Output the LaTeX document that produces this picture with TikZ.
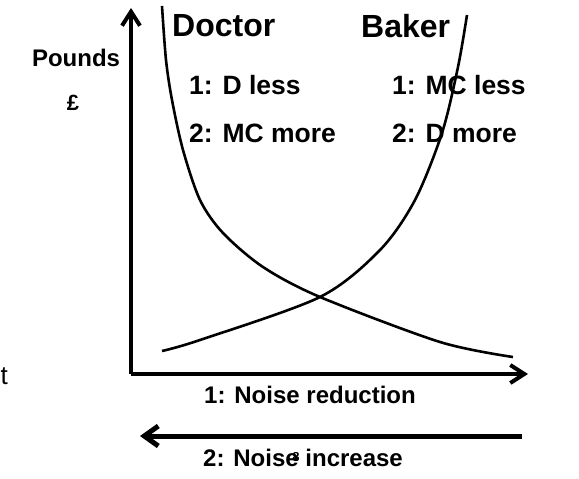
\documentclass[tikz,border=0pt]{standalone}
\usepackage{fontspec}
\setmainfont{Liberation Sans}
\usepackage{tikz}
\usetikzlibrary{calc,positioning,arrows.meta}

\tikzset{
	lbl/.style={font=\fontsize{26.5}{30}\selectfont\bfseries, inner sep=0pt, anchor=west},
	axlbl/.style={font=\fontsize{24}{28}\selectfont\bfseries, inner sep=0pt, anchor=west},
	ttl/.style={font=\fontsize{32}{36}\selectfont\bfseries, inner sep=0pt, anchor=west},
	axis/.style={line width=4pt, -{Straight Barb[length=14pt,width=18pt,line width=4pt]}},
	curve/.style={line width=2.6pt}
}

\begin{document}
\begin{tikzpicture}[x=1pt,y=-1pt]
			\useasboundingbox (0,0) rectangle (579,479);
			\coordinate (o) at (131,374);
			\coordinate (ytop) at (131,8);
			\coordinate (xend) at (528,374);
			\draw[axis] (o) -- (ytop);
			\draw[axis] (o) -- (xend);

			\node[font=\fontsize{24}{28}\selectfont\bfseries, inner sep=0pt] (pounds) at (76,58) {Pounds};
			\node[font=\fontsize{22}{24}\selectfont\bfseries, inner sep=0pt] (pound) at (73,103) {\pounds};

			% demand / cost curves
			\draw[curve] plot[smooth] coordinates {(162,6) (166,60) (172,100) (183,150) (200,200) (223,233) (263,267) (320,297) (440,342) (513,357)};
			\draw[curve] plot[smooth] coordinates {(162,351) (200,340) (320,297) (380,250) (415,200) (442,133) (458,67) (467,15)};

			\node[ttl] (doctor) at (172,26) {Doctor};
			\node[ttl] (baker) at (361,26) {Baker};
			\node[lbl] (dless) at (189,85) {1: D less};
			\node[lbl] (mcmore) at (189,133) {2: MC more};
			\node[lbl] (mcless) at (392,85) {1: MC less};
			\node[lbl] (dmore) at (392,133) {2: D more};

			\node[axlbl] (reduce) at (204,395) {1: Noise reduction};
			\coordinate (bstart) at (522,436);
			\coordinate (bend) at (140,436);
			\draw[line width=5pt, -{Straight Barb[length=14pt,width=20pt,line width=5pt]}] (bstart) -- (bend);
			\node[axlbl] (increase) at (203,458) {2: Noise increase};
			\node[font=\fontsize{13}{14}\selectfont\bfseries, inner sep=0pt] (pagenum) at (296,457) {8};

			\node[font=\fontsize{26}{30}\selectfont, inner sep=0pt, anchor=base east] (cut) at (8,384) {t};
		\end{tikzpicture}
\end{document}
